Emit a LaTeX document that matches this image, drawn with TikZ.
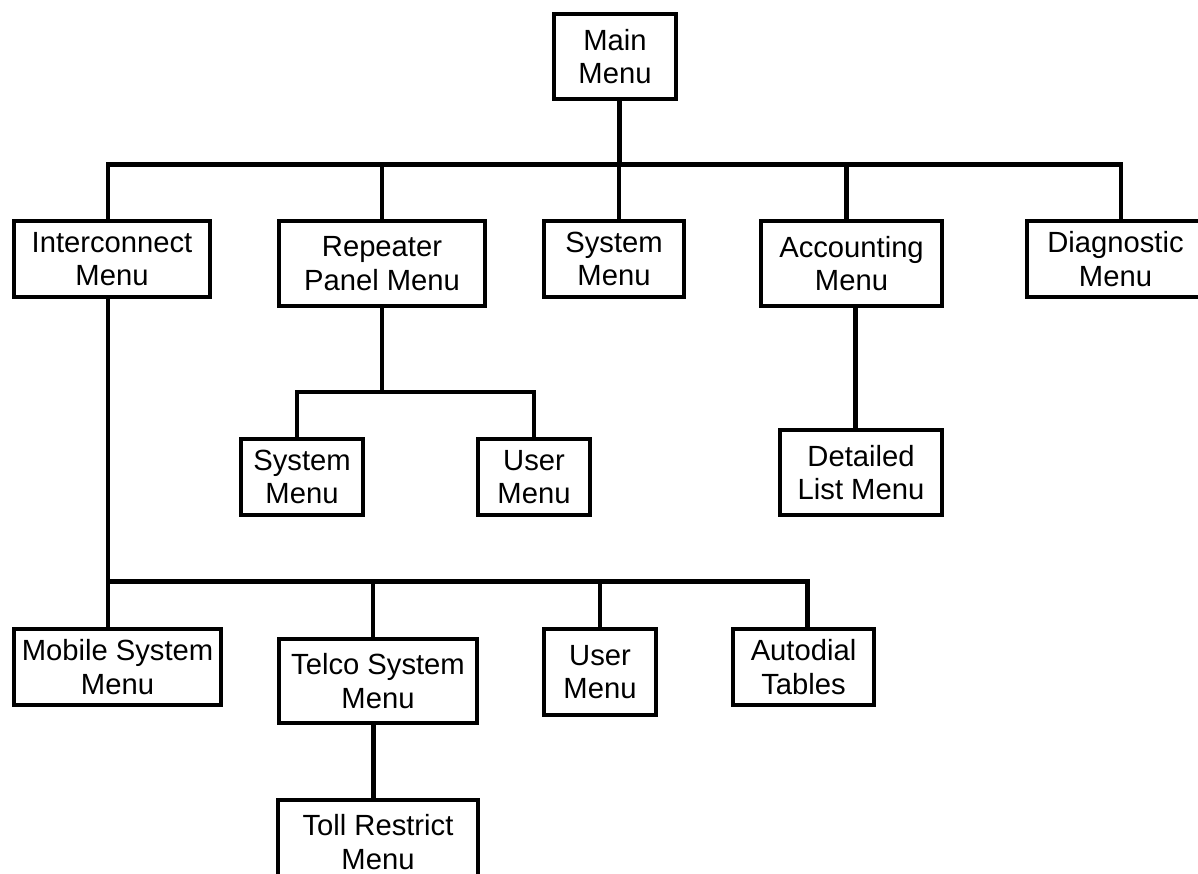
\documentclass[tikz,border=0pt]{standalone}
\usepackage{fontspec}
\setmainfont{Liberation Sans}

\begin{document}
\begin{tikzpicture}[
  x=0.5pt, y=-0.5pt,
  menu/.style={rectangle, draw, line width=2pt, inner sep=0pt,
    align=center, font=\fontsize{14.6pt}{16.8pt}\selectfont},
  link/.style={line width=2.3pt, line join=miter}
]
\useasboundingbox (0,0) rectangle (1198,873);
\clip (0,0) rectangle (1198,873);

% Top menu
\node[menu, minimum width=61pt, minimum height=42.5pt] (main) at (615,56.5)
  {Main\\Menu};

% First level menus
\node[menu, minimum width=98pt, minimum height=38pt] (inter) at (112,259)
  {Interconnect\\Menu};
\node[menu, minimum width=103pt, minimum height=42.5pt] (rep) at (382,263.5)
  {Repeater\\Panel Menu};
\node[menu, minimum width=70pt, minimum height=38pt] (sys) at (614,259)
  {System\\Menu};
\node[menu, minimum width=90.5pt, minimum height=42.5pt] (acc) at (851.5,263.5)
  {Accounting\\Menu};
\node[menu, minimum width=88.5pt, minimum height=38pt] (diag) at (1115.5,259)
  {Diagnostic\\Menu};

% Repeater panel submenus
\node[menu, minimum width=61pt, minimum height=38pt] (rsys) at (302,477)
  {System\\Menu};
\node[menu, minimum width=56pt, minimum height=38pt] (ruser) at (534,477)
  {User\\Menu};

% Accounting submenu
\node[menu, minimum width=81pt, minimum height=42.5pt] (detail) at (861,472.5)
  {Detailed\\List Menu};

% Interconnect submenus
\node[menu, minimum width=103.5pt, minimum height=38pt] (mobile) at (117.5,667)
  {Mobile System\\Menu};
\node[menu, minimum width=99pt, minimum height=42pt] (telco) at (378,681)
  {Telco System\\Menu};
\node[menu, minimum width=56pt, minimum height=43pt] (iuser) at (600,672)
  {User\\Menu};
\node[menu, minimum width=70.5pt, minimum height=38pt] (autod) at (803.5,667)
  {Autodial\\Tables};
\node[menu, minimum width=100pt, minimum height=42pt] (toll) at (378,842)
  {Toll Restrict\\Menu};

% Bus lines
\coordinate (topbus) at (0,164.5);
\coordinate (repbus) at (0,392);
\coordinate (interbus) at (0,581.5);

% Main menu to first level
\draw[link] ([xshift=2.25pt]main.south) -- ([xshift=2.25pt]main.south |- topbus);
\draw[link] ([xshift=-2pt]inter.north) -- ([xshift=-2pt]inter.north |- topbus)
  -- ([xshift=2.75pt]diag.north |- topbus) -- ([xshift=2.75pt]diag.north);
\draw[link] (rep.north) -- (rep.north |- topbus);
\draw[link] ([xshift=2.5pt]sys.north) -- ([xshift=2.5pt]sys.north |- topbus);
\draw[link] ([xshift=-2.5pt]acc.north) -- ([xshift=-2.5pt]acc.north |- topbus);

% Repeater panel branch
\draw[link] (rep.south) -- (rep.south |- repbus);
\draw[link] ([xshift=-2.5pt]rsys.north) -- ([xshift=-2.5pt]rsys.north |- repbus)
  -- (ruser.north |- repbus) -- (ruser.north);

% Accounting branch
\draw[link] ([xshift=2pt]acc.south) -- ([xshift=-2.75pt]detail.north);

% Interconnect branch
\draw[link] ([xshift=-2pt]inter.south) -- ([xshift=-4.75pt]mobile.north);
\draw[link] ([xshift=-2pt]inter.south |- interbus)
  -- ([xshift=2pt]autod.north |- interbus) -- ([xshift=2pt]autod.north);
\draw[link] ([xshift=-2.5pt]telco.north) -- ([xshift=-2.5pt]telco.north |- interbus);
\draw[link] (iuser.north) -- (iuser.north |- interbus);
\draw[link] ([xshift=-2.25pt]telco.south) -- ([xshift=-2.25pt]toll.north);

\end{tikzpicture}
\end{document}
